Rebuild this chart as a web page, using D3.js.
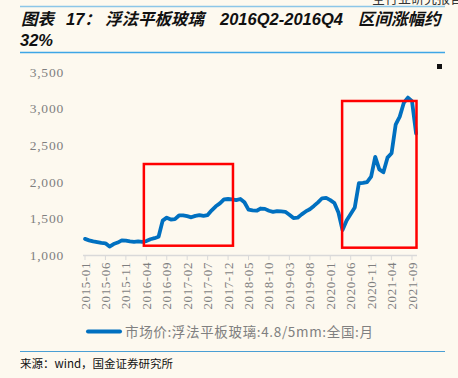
<!DOCTYPE html>
<html><head><meta charset="utf-8">
<script src="https://cdn.jsdelivr.net/npm/d3@7"></script>
<style>
body{margin:0;background:#fdf9ef;}
svg{display:block;}
</style>
</head><body>
<svg id="c" width="458" height="378"></svg>
<script>
const months = [
 "2015-01","2015-02","2015-03","2015-04","2015-05","2015-06","2015-07","2015-08","2015-09","2015-10","2015-11","2015-12",
 "2016-01","2016-02","2016-03","2016-04","2016-05","2016-06","2016-07","2016-08","2016-09","2016-10","2016-11","2016-12",
 "2017-01","2017-02","2017-03","2017-04","2017-05","2017-06","2017-07","2017-08","2017-09","2017-10","2017-11","2017-12",
 "2018-01","2018-02","2018-03","2018-04","2018-05","2018-06","2018-07","2018-08","2018-09","2018-10","2018-11","2018-12",
 "2019-01","2019-02","2019-03","2019-04","2019-05","2019-06","2019-07","2019-08","2019-09","2019-10","2019-11","2019-12",
 "2020-01","2020-02","2020-03","2020-04","2020-05","2020-06","2020-07","2020-08","2020-09","2020-10","2020-11","2020-12",
 "2021-01","2021-02","2021-03","2021-04","2021-05","2021-06","2021-07","2021-08","2021-09","2021-10"
];
const prices = [
 1220,1200,1185,1175,1165,1160,1115,1150,1170,1200,1195,1185,
 1180,1185,1180,1190,1215,1230,1250,1470,1510,1485,1490,1540,
 1540,1530,1515,1535,1545,1535,1545,1610,1665,1705,1760,1765,
 1760,1750,1765,1720,1620,1610,1605,1635,1630,1605,1590,1600,
 1595,1590,1550,1505,1510,1555,1595,1625,1670,1720,1775,1780,
 1750,1710,1580,1340,1470,1560,1650,1980,1985,1995,2070,2340,
 2170,2130,2330,2390,2780,2890,3080,3150,3100,2660
];
const xTickLabels = ["2015-01","2015-06","2015-11","2016-04","2016-09","2017-02","2017-07","2017-12",
 "2018-05","2018-10","2019-03","2019-08","2020-01","2020-06","2020-11","2021-04","2021-09"];
const yTicks = [1000,1500,2000,2500,3000,3500];
// highlight boxes: month-index span and value span
const boxStart = [14.4, 62.9];
const boxEnd = [36.2, 81.1];
const boxLow = [1127, 1100];
const boxHigh = [2243, 3104];
const seriesName = "市场价:浮法平板玻璃:4.8/5mm:全国:月";
const titleParts = ["图表", "17：", "浮法平板玻璃", "2016Q2-2016Q4", "区间涨幅约"];
const titleLine2 = "32%";
const sourceText = "来源：wind，国金证券研究所";

const svg = d3.select("#c");
svg.append("rect").attr("width",458).attr("height",378).attr("fill","#fdf9ef");

const x = d3.scaleLinear().domain([0, months.length-1]).range([85, 416.1]);
const y = d3.scaleLinear().domain([1000,3500]).range([255,72]);

// header
svg.append("text").attr("x",372).attr("y",3).attr("font-size",13)
  .attr("font-family","Noto Sans CJK SC").attr("fill","#333").text("全行业研究报告");
svg.append("line").attr("x1",20).attr("x2",445).attr("y1",6.5).attr("y2",6.5)
  .attr("stroke","#8cc6e8").attr("stroke-width",1.5);
const titlePos = [21, 66, 105, 220, 358];
svg.append("g").selectAll("text").data(titleParts).join("text")
  .attr("x",(d,i)=>titlePos[i]).attr("y",24.5)
  .attr("font-family","Liberation Sans, Noto Sans CJK SC").attr("font-size",16.5)
  .attr("font-weight","bold").attr("font-style","italic").attr("fill","#111").text(d=>d);
svg.append("text").attr("x",20).attr("y",45.5)
  .attr("font-family","Liberation Sans, Noto Sans CJK SC").attr("font-size",16.5)
  .attr("font-weight","bold").attr("font-style","italic").attr("fill","#111").text(titleLine2);
svg.append("line").attr("x1",20).attr("x2",445).attr("y1",52.5).attr("y2",52.5)
  .attr("stroke","#3ea6e6").attr("stroke-width",1.5);

svg.append("rect").attr("x",437).attr("y",64).attr("width",5).attr("height",5).attr("fill","#111");

// y labels
svg.append("g").selectAll("text").data(yTicks).join("text")
  .attr("x",64).attr("y",d=>y(d)).attr("dy","0.35em").attr("text-anchor","end")
  .attr("font-family","Liberation Serif, DejaVu Serif").attr("font-size",13.5)
  .attr("letter-spacing","0.8px").attr("fill","#7f7f7f")
  .text(d=>d3.format(",")(d));

// x axis
const xa = svg.append("g");
xa.append("line").attr("x1",83).attr("x2",417).attr("y1",255.5).attr("y2",255.5)
  .attr("stroke","#d9d9d9").attr("stroke-width",1.5);
const tickIdx = xTickLabels.map(l=>months.indexOf(l));
xa.selectAll("line.t").data(tickIdx).join("line").attr("class","t")
  .attr("x1",d=>x(d)).attr("x2",d=>x(d)).attr("y1",255).attr("y2",260)
  .attr("stroke","#d9d9d9").attr("stroke-width",1);
xa.selectAll("text").data(xTickLabels).join("text")
  .attr("transform",d=>`translate(${x(months.indexOf(d))},262) rotate(-90)`)
  .attr("text-anchor","end").attr("dominant-baseline","central")
  .attr("font-family","Liberation Serif, DejaVu Serif").attr("font-size",13)
  .attr("letter-spacing","0.6px").attr("fill","#7f7f7f").text(d=>d);

// line
const line = d3.line().x((d,i)=>x(i)).y(d=>y(d)).curve(d3.curveLinear);
svg.append("path").datum(prices).attr("d",line).attr("fill","none")
  .attr("stroke","#0070c0").attr("stroke-width",3.8)
  .attr("stroke-linejoin","round").attr("stroke-linecap","round");

// boxes
svg.append("g").selectAll("rect").data(boxStart.map((s,i)=>i)).join("rect")
  .attr("x",i=>x(boxStart[i])).attr("y",i=>y(boxHigh[i]))
  .attr("width",i=>x(boxEnd[i])-x(boxStart[i]))
  .attr("height",i=>y(boxLow[i])-y(boxHigh[i]))
  .attr("fill","none").attr("stroke","#ff0000").attr("stroke-width",2.5);

// legend
svg.append("line").attr("x1",88).attr("x2",120).attr("y1",331.5).attr("y2",331.5)
  .attr("stroke","#0070c0").attr("stroke-width",4).attr("stroke-linecap","round");
svg.append("text").attr("x",125).attr("y",336.5)
  .attr("font-family","Noto Sans CJK SC").attr("font-size",13.5).attr("fill","#808080")
  .attr("textLength",248).attr("lengthAdjust","spacing").text(seriesName);

// source
svg.append("line").attr("x1",20).attr("x2",445).attr("y1",351.5).attr("y2",351.5)
  .attr("stroke","#4a9fd4").attr("stroke-width",1.2);
svg.append("text").attr("x",20).attr("y",368)
  .attr("font-family","Noto Sans CJK SC").attr("font-size",11.5).attr("fill","#111")
  .text(sourceText);
</script>
</body></html>
